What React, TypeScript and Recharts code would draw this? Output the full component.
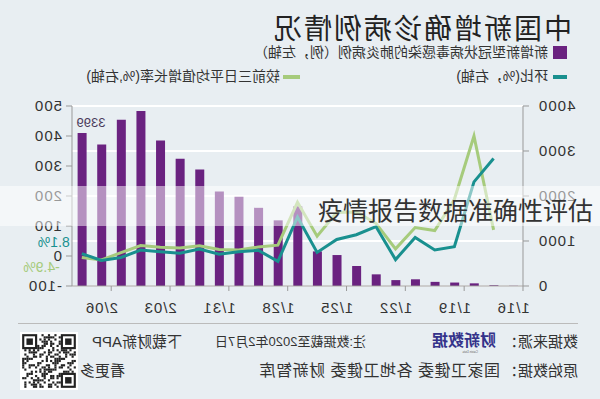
import React from "react";
import {
  Bar,
  CartesianGrid,
  ComposedChart,
  LabelList,
  Line,
  XAxis,
  YAxis,
} from "recharts";

// 日期
const dates = [
  "1/16", "1/17", "1/18", "1/19", "1/20", "1/21", "1/22", "1/23", "1/24", "1/25", "1/26", "1/27",
  "1/28", "1/29", "1/30", "1/31", "2/01", "2/02", "2/03", "2/04", "2/05", "2/06", "2/07",
];
// 新增确诊（例，左轴）
const newCases = [
  4, 17, 59, 77, 92, 149, 131, 259, 444, 688, 769, 1771,
  1459, 1737, 1982, 2102, 2590, 2829, 3235, 3887, 3694, 3143, 3399,
];
// 环比（%，右轴）
const dayOverDay = [
  null, 325, 247, 31, 20, 62, -12, 98, 71, 55, 12, 130,
  -18, 19, 14, 6, 23, 9, 14, 20, -5, -15, 8.1,
];
// 较前三日平均值增长率（%，右轴）
const vsThreeDayAvg = [
  null, 87, 400, 189, 85, 95, 24, 109, 147, 145, 66, 179,
  36, 30, 20, 22, 34, 27, 29, 35, 11, -13, -4.9,
];
const leftTicks = [0, 1000, 2000, 3000, 4000];
const rightTicks = [-100, 0, 100, 200, 300, 400, 500];
const labeledDates = ["1/16", "1/19", "1/22", "1/25", "1/28", "1/31", "2/03", "2/06"];

const data = dates.map((d, i) => ({
  date: d,
  cases: newCases[i],
  dod: dayOverDay[i],
  avg3: vsThreeDayAvg[i],
}));

const PURPLE = "#6a2280";
const TEAL = "#19908f";
const GREEN = "#a6cb7c";
const TEXT = "#333";
const FONT = "'Liberation Sans', 'Noto Sans CJK SC', sans-serif";
const HALF_BAND = 9.8;

const XTick = (props: any) => {
  const { x, y, payload } = props;
  if (!labeledDates.includes(payload.value)) return null;
  return (
    <g>
      <line x1={x - HALF_BAND} x2={x - HALF_BAND} y1={y - 8} y2={y - 3} stroke="#999" />
      <text x={x} y={y + 19} textAnchor="middle" fill={TEXT} fontSize={15} letterSpacing={1}>
        {payload.value}
      </text>
    </g>
  );
};

const lastLabel = (text: string, color: string, dx: number, dy: number) => (props: any) => {
  const { x, y, index } = props;
  if (index !== dates.length - 1) return null;
  return (
    <text x={x + dx} y={y + dy} fill={color} fontSize={14} dominantBaseline="central">
      {text}
    </text>
  );
};

const barLabel = (props: any) => {
  const { x, y, width, index } = props;
  if (index !== dates.length - 1) return null;
  return (
    <text x={x + width + 1} y={y - 6} textAnchor="end" fill="#4a3a5a" fontSize={13}>
      {newCases[index]}
    </text>
  );
};

function QRBlock() {
  const n = 25;
  const cells: React.ReactNode[] = [];
  const finder = (r: number, c: number) =>
    (r < 7 && c < 7) || (r < 7 && c >= n - 7) || (r >= n - 7 && c < 7);
  for (let r = 0; r < n; r++) {
    for (let c = 0; c < n; c++) {
      if (finder(r, c)) continue;
      if ((r * 7 + c * 11 + ((r * c) % 5)) % 3 === 0 || (r + c * 3) % 7 === 1) {
        cells.push(<rect key={`${r}-${c}`} x={c} y={r} width={1} height={1} fill="#222" />);
      }
    }
  }
  const fp = (x: number, y: number) => (
    <g key={`f${x}${y}`}>
      <rect x={x} y={y} width={7} height={7} fill="#222" />
      <rect x={x + 1} y={y + 1} width={5} height={5} fill="#fff" />
      <rect x={x + 2} y={y + 2} width={3} height={3} fill="#222" />
    </g>
  );
  return (
    <svg width={58} height={58} viewBox="-1 -1 27 27" style={{ position: "absolute", left: 522, top: 332 }}>
      <rect x={-1} y={-1} width={27} height={27} fill="#fff" />
      {cells}
      {fp(0, 0)}
      {fp(n - 7, 0)}
      {fp(0, n - 7)}
    </svg>
  );
}

export default function App() {
  const abs = (left: number, top: number, extra: React.CSSProperties = {}): React.CSSProperties => ({
    position: "absolute",
    left,
    top,
    whiteSpace: "nowrap",
    ...extra,
  });
  return (
    <div
      style={{
        position: "absolute",
        left: 0,
        top: 0,
        width: 600,
        height: 399,
        overflow: "hidden",
        background: "#e8eef2",
        fontFamily: FONT,
        color: TEXT,
      }}
    >
      {/* 镜像画面 */}
      <div style={{ position: "absolute", inset: 0, transform: "scaleX(-1)" }}>
        <div style={abs(28, 10, { fontSize: 28, lineHeight: "34px", fontFamily: "'Noto Sans CJK SC', sans-serif", color: "#222", letterSpacing: 2 })}>
          中国新增确诊病例情况
        </div>
        <div style={abs(33, 46, { width: 14, height: 13, background: PURPLE })} />
        <div style={abs(52, 44, { fontSize: 14, lineHeight: "17px" })}>
          新增新型冠状病毒感染的肺炎病例（例，左轴）
        </div>
        <div style={abs(33, 75, { width: 14, height: 4, background: TEAL })} />
        <div style={abs(52, 68, { fontSize: 14, lineHeight: "17px" })}>环比(%，右轴)</div>
        <div style={abs(300, 75, { width: 17, height: 4, background: GREEN })} />
        <div style={abs(320, 68, { fontSize: 14, lineHeight: "17px" })}>较前三日平均值增长率(%,右轴)</div>

        <div style={abs(0, 0)}>
          <ComposedChart
            width={600}
            height={320}
            data={data}
            margin={{ top: 106, right: 0, bottom: 0, left: 0 }}
            barCategoryGap={0}
          >
            <CartesianGrid yAxisId="l" vertical={false} stroke="#ffffff" strokeWidth={2} />
            <XAxis
              dataKey="date"
              interval={0}
              height={34}
              tick={<XTick />}
              tickLine={false}
              axisLine={{ stroke: "#999" }}
            />
            <YAxis
              yAxisId="l"
              orientation="left"
              width={77}
              domain={[0, 4000]}
              ticks={leftTicks}
              tickSize={6}
              tickMargin={9}
              tick={{ fontSize: 15, fill: TEXT, letterSpacing: 1 }}
              axisLine={{ stroke: "#999" }}
              tickLine={{ stroke: "#999" }}
            />
            <YAxis
              yAxisId="r"
              orientation="right"
              width={72}
              domain={[-100, 500]}
              ticks={rightTicks}
              tickSize={6}
              tickMargin={4}
              tick={{ fontSize: 15, fill: TEXT, letterSpacing: 1 }}
              axisLine={{ stroke: "#999" }}
              tickLine={{ stroke: "#999" }}
            />
            <Bar yAxisId="l" dataKey="cases" fill={PURPLE} barSize={9} isAnimationActive={false}>
              <LabelList dataKey="cases" content={barLabel} />
            </Bar>
            <Line
              yAxisId="r"
              dataKey="avg3"
              stroke={GREEN}
              strokeWidth={3}
              dot={false}
              isAnimationActive={false}
            >
              <LabelList dataKey="avg3" content={lastLabel("-4.9%", GREEN, 22, 10)} />
            </Line>
            <Line
              yAxisId="r"
              dataKey="dod"
              stroke={TEAL}
              strokeWidth={3}
              dot={false}
              isAnimationActive={false}
            >
              <LabelList dataKey="dod" content={lastLabel("8.1%", TEAL, 12, -12)} />
            </Line>
          </ComposedChart>
        </div>

        <div style={abs(22, 323, { width: 560, height: 1, background: "#bbb" })} />
        <div style={abs(22, 333, { fontSize: 15, lineHeight: "18px" })}>数据来源：</div>
        <div style={abs(104, 330, { fontSize: 16, lineHeight: "18px", fontWeight: 700, color: "#34338a", fontFamily: "'Noto Sans CJK SC', sans-serif" })}>
          财新数据
        </div>
        <div style={abs(122, 350, { fontSize: 3, lineHeight: "4px", color: "#666" })}>Caixin Data</div>
        <div style={abs(234, 334, { fontSize: 13, lineHeight: "16px" })}>注:数据截至2020年2月7日</div>
        <div style={abs(418, 333, { fontSize: 15, lineHeight: "18px" })}>下载财新APP</div>
        <div style={abs(22, 362, { fontSize: 15, lineHeight: "18px" })}>原始数据：</div>
        <div style={abs(100, 361, { fontSize: 16, lineHeight: "19px", letterSpacing: 0.5 })}>
          国家卫健委 各地卫健委 财新智库
        </div>
        <div style={abs(475, 362, { fontSize: 15, lineHeight: "18px" })}>看更多</div>
        <QRBlock />
      </div>

      {/* 覆盖层 */}
      <div style={abs(0, 186, { width: 600, height: 40, background: "rgba(255,255,255,0.5)" })} />
      <div style={abs(318, 195, { fontSize: 25, lineHeight: "28px", color: "#333", fontFamily: "'Noto Sans CJK SC', sans-serif" })}>
        疫情报告数据准确性评估
      </div>
    </div>
  );
}
